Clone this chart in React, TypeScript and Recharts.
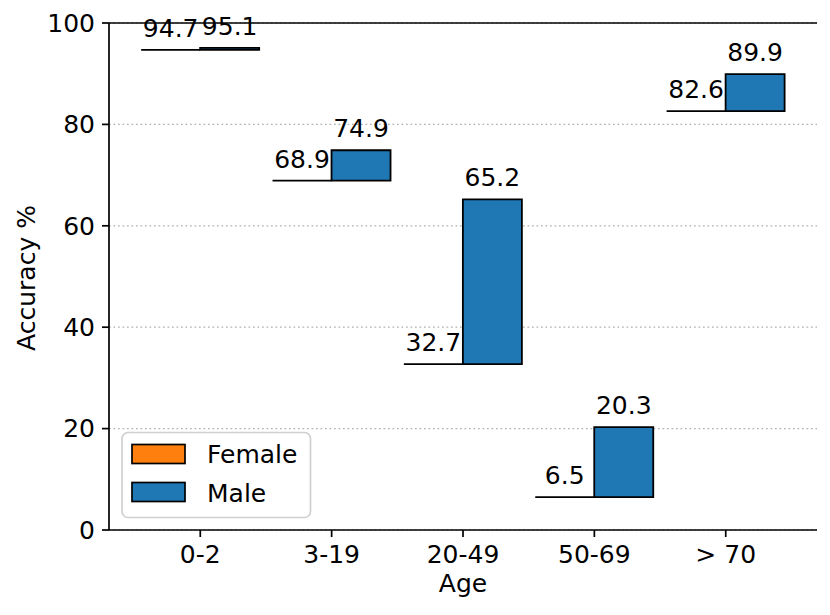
import React from "react";
import { BarChart, Bar, XAxis, YAxis, CartesianGrid, LabelList, ReferenceLine, Label } from "recharts";

const FONT = "'DejaVu Sans', Verdana, sans-serif";

const ageGroups = ["0-2", "3-19", "20-49", "50-69", "> 70"];
const femaleAcc = [94.7, 68.9, 32.7, 6.5, 82.6];
const maleAcc = [95.1, 74.9, 65.2, 20.3, 89.9];
const yTicks = [0, 20, 40, 60, 80, 100];

const FEMALE_COLOR = "#ff7f0e";
const MALE_COLOR = "#1f77b4";

// female drawn as a zero-height bar, male floats from female to male value
const data = ageGroups.map((age, i) => ({
  age,
  female: [femaleAcc[i], femaleAcc[i]],
  male: [femaleAcc[i], maleAcc[i]],
  femaleVal: femaleAcc[i],
  maleVal: maleAcc[i],
}));

const FemaleShape = (p: any) => (
  <line
    x1={p.x}
    x2={p.x + p.width}
    y1={p.y + p.height}
    y2={p.y + p.height}
    stroke="#000"
    strokeWidth={1.8}
  />
);

const BarLabel = (p: any) => {
  const vb = p.viewBox && p.viewBox.width !== undefined ? p.viewBox : p;
  const x = Number(vb.x) + Number(vb.width) / 2;
  const y = Math.min(Number(vb.y), Number(vb.y) + Number(vb.height));
  return (
    <text x={x} y={y - 13} textAnchor="middle" fontSize={25} fontFamily={FONT} fill="#000">
      {p.value}
    </text>
  );
};

const tickStyle = { fontSize: 25, fill: "#000", fontFamily: FONT };

export default function App() {
  return (
    <div style={{ position: "absolute", left: 0, top: 0, width: 830, height: 615, background: "#fff" }}>
      <BarChart
        width={830}
        height={615}
        data={data}
        margin={{ top: 23, right: 13, bottom: 0, left: 0 }}
        barCategoryGap="5%"
        barGap={0}
      >
        <CartesianGrid
          vertical={false}
          stroke="#b0b0b0"
          strokeDasharray="1.7 2.8"
          strokeWidth={1.2}
        />
        <XAxis
          dataKey="age"
          height={85}
          padding={{ left: 25.6, right: 25.6 }}
          tick={tickStyle}
          tickSize={7}
          tickMargin={8}
          axisLine={{ stroke: "#000", strokeWidth: 1.7 }}
          tickLine={{ stroke: "#000", strokeWidth: 1.7 }}
          interval={0}
          label={
            <Label
              content={() => (
                <text x={463} y={592} textAnchor="middle" fontSize={25} fontFamily={FONT} fill="#000">
                  Age
                </text>
              )}
            />
          }
        />
        <YAxis
          width={109}
          domain={[0, 100]}
          ticks={yTicks}
          tick={tickStyle}
          tickSize={7}
          tickMargin={7}
          axisLine={{ stroke: "#000", strokeWidth: 1.7 }}
          tickLine={{ stroke: "#000", strokeWidth: 1.7 }}
          label={
            <Label
              content={() => (
                <text
                  x={35}
                  y={278}
                  transform="rotate(-90 35 278)"
                  textAnchor="middle"
                  fontSize={25}
                  fontFamily={FONT}
                  fill="#000"
                >
                  Accuracy %
                </text>
              )}
            />
          }
        />
        <YAxis
          yAxisId="right"
          orientation="right"
          width={0}
          domain={[0, 100]}
          tick={false}
          tickLine={false}
          axisLine={{ stroke: "#000", strokeWidth: 1.7 }}
        />
        <Bar dataKey="female" fill={FEMALE_COLOR} shape={FemaleShape} isAnimationActive={false}>
          <LabelList dataKey="femaleVal" content={BarLabel} />
        </Bar>
        <Bar dataKey="male" fill={MALE_COLOR} stroke="#000" strokeWidth={1.8} isAnimationActive={false}>
          <LabelList dataKey="maleVal" content={BarLabel} />
        </Bar>
        <ReferenceLine y={100} stroke="#000" strokeWidth={1.7} />
      </BarChart>
      <svg
        width={830}
        height={615}
        style={{ position: "absolute", left: 0, top: 0, pointerEvents: "none" }}
      >
        <rect x={122} y={432.5} width={188.5} height={85} rx={6} fill="#fff" fillOpacity={0.8} stroke="#d0d0d0" strokeWidth={1.7} />
        <rect x={132} y={444.5} width={53} height={19} fill={FEMALE_COLOR} stroke="#000" strokeWidth={1.7} />
        <rect x={132} y={482.5} width={53} height={19} fill={MALE_COLOR} stroke="#000" strokeWidth={1.7} />
        <text x={207} y={462.5} fontSize={25} fontFamily={FONT} fill="#000">Female</text>
        <text x={207} y={501.5} fontSize={25} fontFamily={FONT} fill="#000">Male</text>
      </svg>
    </div>
  );
}
